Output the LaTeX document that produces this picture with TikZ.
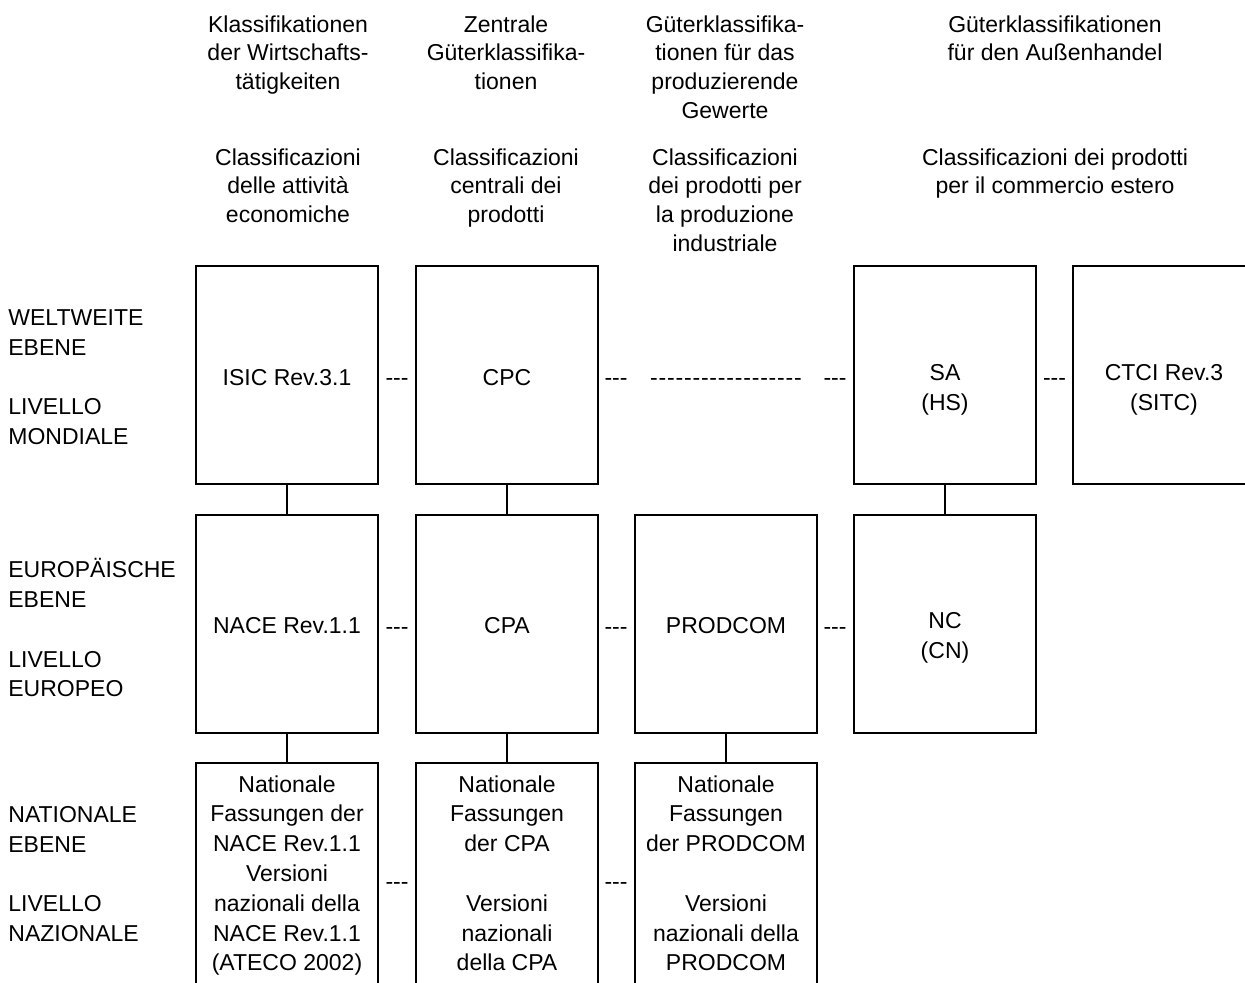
\documentclass[tikz,border=0pt]{standalone}
\usepackage{fontspec}
\setmainfont{Liberation Sans}[Ligatures=TeXOff]
\usetikzlibrary{positioning}

\tikzset{
  klbox/.style={draw,line width=1pt,minimum width=91pt,minimum height=109pt,inner sep=0pt},
  klbox3/.style={klbox,minimum height=118pt},
  kltxt/.style={anchor=north,inner sep=0pt,align=center,
    font=\fontsize{11.5}{14.9}\selectfont,execute at begin node=\strut},
  kopf/.style={kltxt,font=\fontsize{11.5}{14.4}\selectfont},
  ebene/.style={kltxt,anchor=north west,align=left},
  verb/.style={line width=1pt}
}

\begin{document}
\begin{tikzpicture}[x=0.5pt,y=-0.5pt]
  \useasboundingbox (0,0) rectangle (1245,982);
  \clip (0,0) rectangle (1245,982);

  % column heads
  \node[kopf] (kd1) at (288,15) {Klassifikationen\\der Wirtschafts-\\tätigkeiten};
  \node[kopf] (kd2) at (506,15) {Zentrale\\Güterklassifika-\\tionen};
  \node[kopf] (kd3) at (725,15) {Güterklassifika-\\tionen für das\\produzierende\\Gewerte};
  \node[kopf] (kd4) at (1055,15) {Güterklassifikationen\\für den Außenhandel};
  \node[kopf] (ki1) at (288,148) {Classificazioni\\delle attività\\economiche};
  \node[kopf] (ki2) at (506,148) {Classificazioni\\centrali dei\\prodotti};
  \node[kopf] (ki3) at (725,148) {Classificazioni\\dei prodotti per\\la produzione\\industriale};
  \node[kopf] (ki4) at (1055,148) {Classificazioni dei prodotti\\per il commercio estero};

  % levels
  \node[ebene] (welt) at (8,309) {WELTWEITE\\EBENE\\[14.9pt]LIVELLO\\MONDIALE};
  \node[ebene] (europa) at (8,558) {EUROPÄISCHE\\EBENE\\[14.9pt]LIVELLO\\EUROPEO};
  \node[ebene] (national) at (8,806) {NATIONALE\\EBENE\\[14.9pt]LIVELLO\\NAZIONALE};

  % world
  \node[klbox] (isic) at (287,375) {};
  \node[klbox] (cpc) at (507,375) {};
  \node[klbox] (sa) at (945,375) {};
  \node[klbox] (ctci) at (1164,375) {};
  \node[kltxt,below=49.5pt of isic.north] (isict) {ISIC Rev.3.1};
  \node[kltxt,below=49.5pt of cpc.north] (cpct) {CPC};
  \node[kltxt,below=49.5pt of sa.north] (sat) {SA\\(HS)};
  \node[kltxt,below=49.5pt of ctci.north] (ctcit) {CTCI Rev.3\\(SITC)};

  % europe
  \node[klbox] (nace) at (287,623.5) {};
  \node[klbox] (cpa) at (507,623.5) {};
  \node[klbox] (prodcom) at (726,623.5) {};
  \node[klbox] (nc) at (945,623.5) {};
  \node[kltxt,below=49.5pt of nace.north] (nacet) {NACE Rev.1.1};
  \node[kltxt,below=49.5pt of cpa.north] (cpat) {CPA};
  \node[kltxt,below=49.5pt of prodcom.north] (prodcomt) {PRODCOM};
  \node[kltxt,below=49.5pt of nc.north] (nct) {NC\\(CN)};

  % national
  \node[klbox3] (natnace) at (287,881) {};
  \node[klbox3] (natcpa) at (507,881) {};
  \node[klbox3] (natprod) at (726,881) {};
  \node[kltxt,below=6.5pt of natnace.north] (natnacet)
    {Nationale\\Fassungen der\\NACE Rev.1.1\\Versioni\\nazionali della\\NACE Rev.1.1\\(ATECO 2002)};
  \node[kltxt,below=6.5pt of natcpa.north] (natcpat)
    {Nationale\\Fassungen\\der CPA\\[14.9pt]Versioni\\nazionali\\della CPA};
  \node[kltxt,below=6.5pt of natprod.north] (natprodt)
    {Nationale\\Fassungen\\der PRODCOM\\[14.9pt]Versioni\\nazionali della\\PRODCOM};

  % dashes between boxes
  \node[kltxt] (s11) at (397,364) {---};
  \node[kltxt] (s12) at (616,364) {---};
  \node[kltxt] (s13) at (726,364) {\addfontfeature{LetterSpace=3.5}------------------};
  \node[kltxt] (s14) at (835,364) {---};
  \node[kltxt] (s15) at (1054.5,364) {---};
  \node[kltxt] (s21) at (397,613) {---};
  \node[kltxt] (s22) at (616,613) {---};
  \node[kltxt] (s23) at (835,613) {---};
  \node[kltxt] (s31) at (397,868) {---};
  \node[kltxt] (s32) at (616,868) {---};

  % vertical links
  \draw[verb] (isic) -- (nace);
  \draw[verb] (cpc) -- (cpa);
  \draw[verb] (sa) -- (nc);
  \draw[verb] (nace) -- (natnace);
  \draw[verb] (cpa) -- (natcpa);
  \draw[verb] (prodcom) -- (natprod);
\end{tikzpicture}
\end{document}
